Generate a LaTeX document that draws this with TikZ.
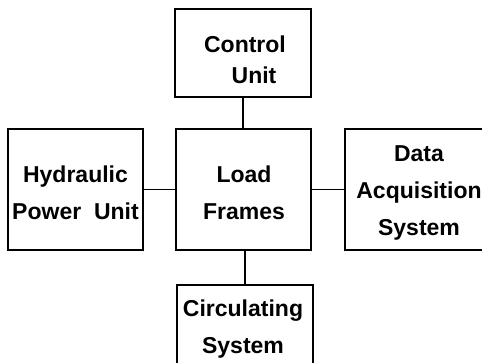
\documentclass[tikz,border=0pt]{standalone}
\usepackage{fontspec}
\setmainfont{Liberation Sans}
\begin{document}
\begin{tikzpicture}[x=1pt,y=-1pt,
  box/.style={draw=black,line width=1.8pt,inner sep=0pt},
  lbl/.style={align=center,inner sep=0pt,font=\fontsize{23}{37}\selectfont\bfseries},
  wire/.style={draw=black,line width=1.8pt}]
\useasboundingbox (0,0) rectangle (482,362);
% boxes
\node[box,minimum width=136pt,minimum height=88pt] (ctrl) at (243,53) {};
\node[box,minimum width=135pt,minimum height=121pt] (hyd) at (75.5,189.5) {};
\node[box,minimum width=135pt,minimum height=121pt] (load) at (243.5,189.5) {};
\node[box,minimum width=142pt,minimum height=121pt] (daq) at (416,189.5) {};
\node[box,minimum width=136pt,minimum height=82pt] (circ) at (245,326) {};
% labels
\node[lbl] (tctrl) at (245,60) {Control\\[-6pt]\hspace*{18pt}Unit};
\node[lbl] (thyd) at (75.5,193) {Hydraulic\\Power\ \ Unit};
\node[lbl] (tload) at (244,193) {Load\\Frames};
\node[lbl] (tdaq) at (419,193) {Data\\Acquisition\\System};
\node[lbl] (tcirc) at (243,329) {Circulating\\System};
% connectors
\draw[wire] (ctrl.south) -- (ctrl.south |- load.north);
\draw[wire] (hyd.east) -- (load.west);
\draw[wire] (load.east) -- (daq.west);
\draw[wire] (circ.north |- load.south) -- (circ.north);
\end{tikzpicture}
\end{document}
